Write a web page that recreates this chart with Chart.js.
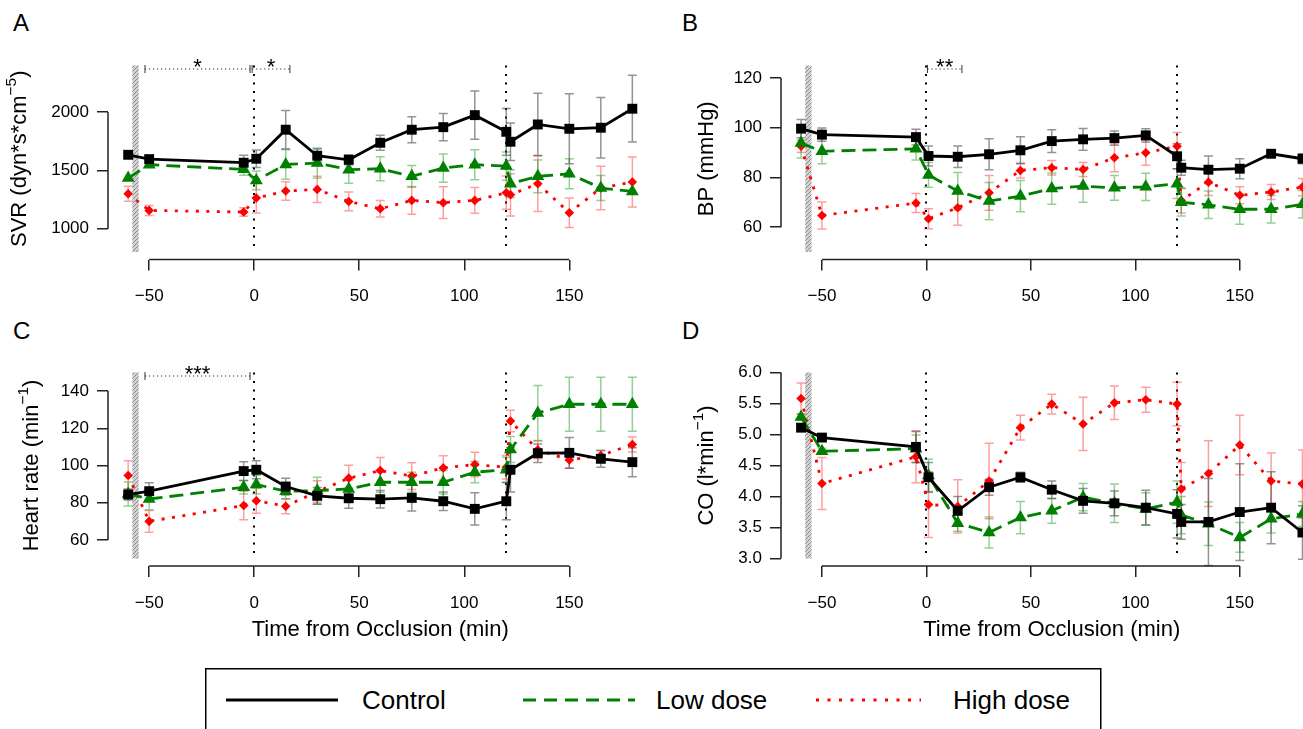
<!DOCTYPE html>
<html>
<head>
<meta charset="utf-8">
<script src="https://cdn.jsdelivr.net/npm/chart.js@4.4.1/dist/chart.umd.min.js"></script>
<style>
  body { margin: 0; width: 1303px; height: 729px; overflow: hidden; background: #fff; position: relative;
         font-family: "Liberation Sans", Arial, sans-serif; }
  canvas { position: absolute; }
  .letter { position: absolute; font-size: 24px; line-height: 24px; color: #000; }
  #legend { position: absolute; left: 205px; top: 668px; }
</style>
</head>
<body>
<div class="letter" style="left:13px;top:11px">A</div>
<div class="letter" style="left:682px;top:11px">B</div>
<div class="letter" style="left:13px;top:319px">C</div>
<div class="letter" style="left:682px;top:319px">D</div>

<canvas id="cA" width="660" height="310" style="left:0;top:0"></canvas>
<canvas id="cB" width="680" height="310" style="left:650px;top:0"></canvas>
<canvas id="cC" width="660" height="345" style="left:0;top:307px"></canvas>
<canvas id="cD" width="680" height="345" style="left:650px;top:307px"></canvas>

<svg id="legend" width="898" height="70">
  <rect x="0.75" y="0.75" width="895" height="120" fill="none" stroke="#000" stroke-width="1.5"/>
  <line x1="21" y1="32" x2="133" y2="32" stroke="#000" stroke-width="3"/>
  <text x="157" y="41" font-size="26" font-family="Liberation Sans, Arial, sans-serif">Control</text>
  <line x1="318" y1="32" x2="430" y2="32" stroke="#008000" stroke-width="3" stroke-dasharray="13 8"/>
  <text x="451" y="41" font-size="26" font-family="Liberation Sans, Arial, sans-serif">Low dose</text>
  <line x1="611" y1="32" x2="716" y2="32" stroke="#ff0000" stroke-width="3" stroke-dasharray="3 8.5"/>
  <text x="748" y="41" font-size="26" font-family="Liberation Sans, Arial, sans-serif">High dose</text>
</svg>

<script>
// time points (min from occlusion)
const times = [-60, -50, -5, 1, 15, 30, 45, 60, 75, 90, 105, 120, 122, 135, 150, 165, 180];
const xTicks = [-50, 0, 50, 100, 150];

// A: SVR
const svrTicks = [1000, 1500, 2000];
const svrControl = [1634, 1597, 1566, 1600, 1849, 1626, 1591, 1737, 1849, 1871, 1974, 1831, 1746, 1894, 1857, 1866, 2029];
const svrControlErr = [0, 15, 64, 74, 164, 57, 43, 64, 111, 117, 207, 200, 160, 267, 300, 260, 286];
const svrLow = [1434, 1549, 1509, 1414, 1551, 1563, 1506, 1514, 1449, 1520, 1549, 1537, 1386, 1449, 1471, 1349, 1320];
const svrLowErr = [0, 15, 50, 80, 126, 129, 117, 103, 94, 121, 129, 121, 119, 140, 129, 107, 0];
const svrHigh = [1300, 1157, 1143, 1263, 1323, 1337, 1234, 1171, 1243, 1223, 1243, 1309, 1291, 1386, 1137, 1349, 1400];
const svrHighErr = [64, 43, 37, 129, 79, 113, 81, 71, 119, 136, 111, 143, 181, 239, 126, 186, 214];

// B: BP
const bpTicks = [60, 80, 100, 120];
const bpControl = [99.6, 97.2, 96.2, 88.6, 88.3, 89.3, 90.9, 94.6, 95.3, 95.8, 96.9, 88.5, 83.9, 83.1, 83.5, 89.5, 87.5];
const bpControlErr = [3.7, 2.7, 3.2, 4, 4.3, 6.2, 5.4, 4.6, 4.4, 2.9, 2.7, 5, 3, 5.5, 4, 1, 2];
const bpLow = [93.8, 90.5, 91.5, 81, 74.5, 70.5, 72.5, 75.5, 76.5, 75.8, 76.2, 77.5, 70, 69, 67.2, 67.2, 69.2];
const bpLowErr = [6, 5, 4.5, 5, 7.5, 7.5, 6.3, 6.3, 6.5, 5, 5.5, 6, 5.5, 5.5, 6, 5.5, 5.5];
const bpHigh = [92.5, 64.7, 69.7, 63.4, 67.8, 73.8, 82.8, 83.9, 83.2, 87.9, 89.9, 92.5, 70.7, 78.1, 72.8, 74.1, 76.1];
const bpHighErr = [2.5, 5.4, 3.8, 4, 7, 7, 3, 2.9, 2.8, 5.6, 5, 5.6, 5, 5.4, 3.4, 3, 3.5];

// C: heart rate
const hrTicks = [60, 80, 100, 120, 140];
const hrControl = [84.4, 86.2, 97, 97.7, 88.7, 83.7, 82.4, 81.9, 82.6, 80.8, 76.7, 80.8, 97.7, 106.6, 106.8, 103.6, 101.8];
const hrControlErr = [3, 4.5, 5, 4.8, 4.5, 4.5, 5.4, 4.7, 7, 5, 8.7, 10, 12, 5, 8.3, 4.5, 7.8];
const hrLow = [84.7, 82, 88.3, 89.8, 86.2, 86.5, 87.4, 91, 91, 91, 96.4, 97.7, 108.6, 128.2, 132.9, 132.9, 132.9];
const hrLowErr = [6.5, 5.8, 3.6, 5, 4.2, 7.2, 4.8, 5.4, 5.4, 6.3, 5.7, 6.7, 7, 14.8, 14.5, 14.5, 14.5];
const hrHigh = [94.6, 70, 78.5, 81.1, 78.1, 86, 93.2, 97.3, 94.3, 98.7, 100.5, 99.1, 123.9, 108.4, 103, 105.4, 111.3];
const hrHighErr = [8, 5.8, 7.7, 6.7, 4, 5.8, 6.9, 7, 7.2, 6.6, 6.6, 6.3, 5.8, 4.8, 4.5, 2.7, 4];

// D: cardiac output
const coTicks = [3.0, 3.5, 4.0, 4.5, 5.0, 5.5, 6.0];
const coControl = [5.11, 4.95, 4.80, 4.31, 3.77, 4.15, 4.31, 4.11, 3.93, 3.89, 3.82, 3.72, 3.59, 3.59, 3.75, 3.82, 3.42];
const coControlErr = [0.03, 0.03, 0.25, 0.24, 0.23, 0.13, 0.08, 0.14, 0.2, 0.2, 0.28, 0.39, 0.28, 0.7, 0.78, 0.58, 0.43];
const coLow = [5.28, 4.73, 4.77, 4.34, 3.57, 3.42, 3.66, 3.77, 3.99, 3.89, 3.80, 3.91, 3.70, 3.56, 3.34, 3.64, 3.72];
const coLowErr = [0.05, 0.05, 0.22, 0.26, 0.13, 0.25, 0.26, 0.2, 0.22, 0.31, 0.26, 0.34, 0.3, 0.35, 0.24, 0.23, 0.2];
const coHigh = [5.58, 4.21, 4.64, 3.87, 3.84, 4.25, 5.11, 5.49, 5.17, 5.51, 5.56, 5.49, 4.12, 4.37, 4.83, 4.25, 4.20];
const coHighErr = [0.25, 0.42, 0.42, 0.53, 0.43, 0.61, 0.2, 0.16, 0.43, 0.27, 0.2, 0.35, 0.43, 0.53, 0.48, 0.45, 0.55];

// significance brackets
const svrBrackets = [{ from: -52, to: -2, label: '*' }, { from: -1, to: 17, label: '*' }];
const bpBrackets = [{ from: 0.5, to: 17, label: '**' }];
const hrBrackets = [{ from: -52, to: -2, label: '***' }];

const FONT = '"Liberation Sans", Arial, sans-serif';
const xLim = [-60, 180];
const breakBar = [-58, -55];
const markers = [0, 120];

const groups = [
  { name: 'Control', line: '#000', err: 'rgba(60,60,60,0.55)', style: 'rect', r: 7, dash: [], width: 2.8 },
  { name: 'Low dose', line: '#008000', err: 'rgba(0,140,0,0.42)', style: 'triangle', r: 7.5, dash: [14, 7], width: 2.8 },
  { name: 'High dose', line: '#ff0000', err: 'rgba(255,0,0,0.38)', style: 'rectRot', r: 4.8, dash: [3, 7.5], width: 2.8 }
];

const panels = [
  { id: 'cA', w: 660, h: 310, area: { left: 108, right: 653, top: 58, bottom: 259.5 },
    yLim: [800, 2400], yTicks: svrTicks, fmt: v => String(v),
    title: [['SVR (dyn*s*cm'], ['\u22125', 1], [')']], titleOff: 88,
    series: [svrControl, svrLow, svrHigh], errs: [svrControlErr, svrLowErr, svrHighErr],
    brackets: svrBrackets, xTitle: false },
  { id: 'cB', w: 680, h: 310, area: { left: 131, right: 673, top: 58, bottom: 259.5 },
    yLim: [50, 125], yTicks: bpTicks, fmt: v => String(v),
    title: [['BP (mmHg)']], titleOff: 74,
    series: [bpControl, bpLow, bpHigh], errs: [bpControlErr, bpLowErr, bpHighErr],
    brackets: bpBrackets, xTitle: false },
  { id: 'cC', w: 660, h: 345, area: { left: 108, right: 653, top: 58, bottom: 259 },
    yLim: [50, 150], yTicks: hrTicks, fmt: v => String(v),
    title: [['Heart rate (min'], ['\u22121', 1], [')']], titleOff: 76,
    series: [hrControl, hrLow, hrHigh], errs: [hrControlErr, hrLowErr, hrHighErr],
    brackets: hrBrackets, xTitle: true },
  { id: 'cD', w: 680, h: 345, area: { left: 131, right: 673, top: 58, bottom: 259 },
    yLim: [3, 6], yTicks: coTicks, fmt: v => v.toFixed(1),
    title: [['CO (l*min'], ['\u22121', 1], [')']], titleOff: 74,
    series: [coControl, coLow, coHigh], errs: [coControlErr, coLowErr, coHighErr],
    brackets: [], xTitle: true }
];

// R-style 4% extension of the limits
function ext(lim) { const d = (lim[1] - lim[0]) * 0.04; return [lim[0] - d, lim[1] + d]; }

function hatch(ctx) {
  const c = document.createElement('canvas'); c.width = 4; c.height = 4;
  const g = c.getContext('2d');
  g.fillStyle = '#d2d2d2'; g.fillRect(0, 0, 4, 4);
  g.strokeStyle = '#8a8a8a'; g.lineWidth = 1;
  g.beginPath(); g.moveTo(0, 4); g.lineTo(4, 0); g.stroke();
  return ctx.createPattern(c, 'repeat');
}

function rotatedTitle(ctx, parts, cx, cy, size) {
  ctx.save();
  ctx.translate(cx, cy); ctx.rotate(-Math.PI / 2);
  ctx.fillStyle = '#000'; ctx.textBaseline = 'middle'; ctx.textAlign = 'left';
  let total = 0;
  parts.forEach(p => { ctx.font = (p[1] ? size * 0.7 : size) + 'px ' + FONT; total += ctx.measureText(p[0]).width; });
  let x = -total / 2;
  parts.forEach(p => {
    ctx.font = (p[1] ? size * 0.7 : size) + 'px ' + FONT;
    ctx.fillText(p[0], x, p[1] ? -size * 0.38 : 0);
    x += ctx.measureText(p[0]).width;
  });
  ctx.restore();
}

function decor(p) {
  return {
    id: 'decor',
    beforeDatasetsDraw(chart) {
      const { ctx, scales: { x, y } } = chart;
      const top = y.getPixelForValue(p.yLim[1]), bot = y.getPixelForValue(p.yLim[0]);
      ctx.save();
      // axis break bar
      const b1 = x.getPixelForValue(breakBar[0]), b2 = x.getPixelForValue(breakBar[1]);
      ctx.fillStyle = hatch(ctx);
      ctx.fillRect(b1, top, b2 - b1, bot - top);
      // occlusion / reperfusion markers
      ctx.strokeStyle = '#000'; ctx.lineWidth = 2; ctx.setLineDash([2, 6.5]);
      markers.forEach(m => {
        const px = Math.round(x.getPixelForValue(m));
        ctx.beginPath(); ctx.moveTo(px, top); ctx.lineTo(px, bot); ctx.stroke();
      });
      ctx.setLineDash([]);
      // error bars
      ctx.lineWidth = 1.5;
      for (let g = groups.length - 1; g >= 0; g--) {
        ctx.strokeStyle = groups[g].err;
        p.series[g].forEach((v, i) => {
          const e = p.errs[g][i];
          if (!e) return;
          const px = x.getPixelForValue(times[i]);
          const y1 = y.getPixelForValue(v - e), y2 = y.getPixelForValue(v + e);
          ctx.beginPath();
          ctx.moveTo(px, y1); ctx.lineTo(px, y2);
          ctx.moveTo(px - 4.5, y1); ctx.lineTo(px + 4.5, y1);
          ctx.moveTo(px - 4.5, y2); ctx.lineTo(px + 4.5, y2);
          ctx.stroke();
        });
      }
      ctx.restore();
    },
    afterDraw(chart) {
      const { ctx, chartArea: a, scales: { x, y } } = chart;
      ctx.save();
      // R-style axis lines, first to last tick
      ctx.strokeStyle = '#222'; ctx.lineWidth = 1.5;
      ctx.beginPath();
      ctx.moveTo(a.left, y.getPixelForValue(p.yTicks[0]));
      ctx.lineTo(a.left, y.getPixelForValue(p.yTicks[p.yTicks.length - 1]));
      ctx.moveTo(x.getPixelForValue(xTicks[0]), a.bottom);
      ctx.lineTo(x.getPixelForValue(xTicks[xTicks.length - 1]), a.bottom);
      ctx.stroke();
      // significance brackets
      const by = a.top + 11;
      p.brackets.forEach(br => {
        const x1 = x.getPixelForValue(br.from), x2 = x.getPixelForValue(br.to);
        ctx.strokeStyle = '#333'; ctx.lineWidth = 1;
        ctx.setLineDash([1.2, 2.8]);
        ctx.beginPath(); ctx.moveTo(x1, by); ctx.lineTo(x2, by); ctx.stroke();
        ctx.setLineDash([]);
        ctx.beginPath();
        ctx.moveTo(x1, by - 4); ctx.lineTo(x1, by + 4);
        ctx.moveTo(x2, by - 4); ctx.lineTo(x2, by + 4);
        ctx.stroke();
        ctx.fillStyle = '#000'; ctx.font = '22px ' + FONT;
        ctx.textAlign = 'center'; ctx.textBaseline = 'alphabetic';
        ctx.fillText(br.label, (x1 + x2) / 2, by + 5);
      });
      // axis titles
      rotatedTitle(ctx, p.title, a.left - p.titleOff, (a.top + a.bottom) / 2, 22);
      if (p.xTitle) {
        ctx.fillStyle = '#000'; ctx.font = '22px ' + FONT;
        ctx.textAlign = 'center'; ctx.textBaseline = 'middle';
        ctx.fillText('Time from Occlusion (min)', (a.left + a.right) / 2, a.bottom + 64);
      }
      ctx.restore();
    }
  };
}

panels.forEach(p => {
  const xr = ext(xLim), yr = ext(p.yLim);
  const datasets = groups.map((g, k) => ({
    label: g.name,
    data: times.map((t, i) => ({ x: t, y: p.series[k][i] })),
    borderColor: g.line, backgroundColor: g.line,
    borderWidth: g.width, borderDash: g.dash, borderCapStyle: 'butt',
    pointStyle: g.style, pointRadius: g.r, pointBorderWidth: 0,
    pointBackgroundColor: g.line, tension: 0, clip: false
  }));
  const tickGrid = { drawOnChartArea: false, drawTicks: true, tickLength: 11, color: '#222', lineWidth: 1.5 };
  new Chart(document.getElementById(p.id), {
    type: 'line',
    data: { datasets },
    options: {
      responsive: false, animation: false, events: [],
      layout: { padding: { left: 0, top: p.area.top, right: p.w - p.area.right, bottom: 0 } },
      plugins: { legend: { display: false }, tooltip: { enabled: false } },
      scales: {
        x: {
          type: 'linear', min: xr[0], max: xr[1],
          afterBuildTicks: s => { s.ticks = xTicks.map(v => ({ value: v })); },
          afterFit: s => { s.height = p.h - p.area.bottom; },
          border: { display: false }, grid: tickGrid,
          ticks: { padding: 16, color: '#000', font: { size: 17, family: FONT }, maxRotation: 0, autoSkip: false,
                   callback: v => (v < 0 ? '\u2212' + Math.abs(v) : String(v)) }
        },
        y: {
          type: 'linear', min: yr[0], max: yr[1],
          afterBuildTicks: s => { s.ticks = p.yTicks.map(v => ({ value: v })); },
          afterFit: s => { s.width = p.area.left; },
          border: { display: false }, grid: tickGrid,
          ticks: { padding: 8, color: '#000', font: { size: 17, family: FONT }, autoSkip: false,
                   callback: v => p.fmt(v) }
        }
      }
    },
    plugins: [decor(p)]
  });
});
</script>
</body>
</html>
